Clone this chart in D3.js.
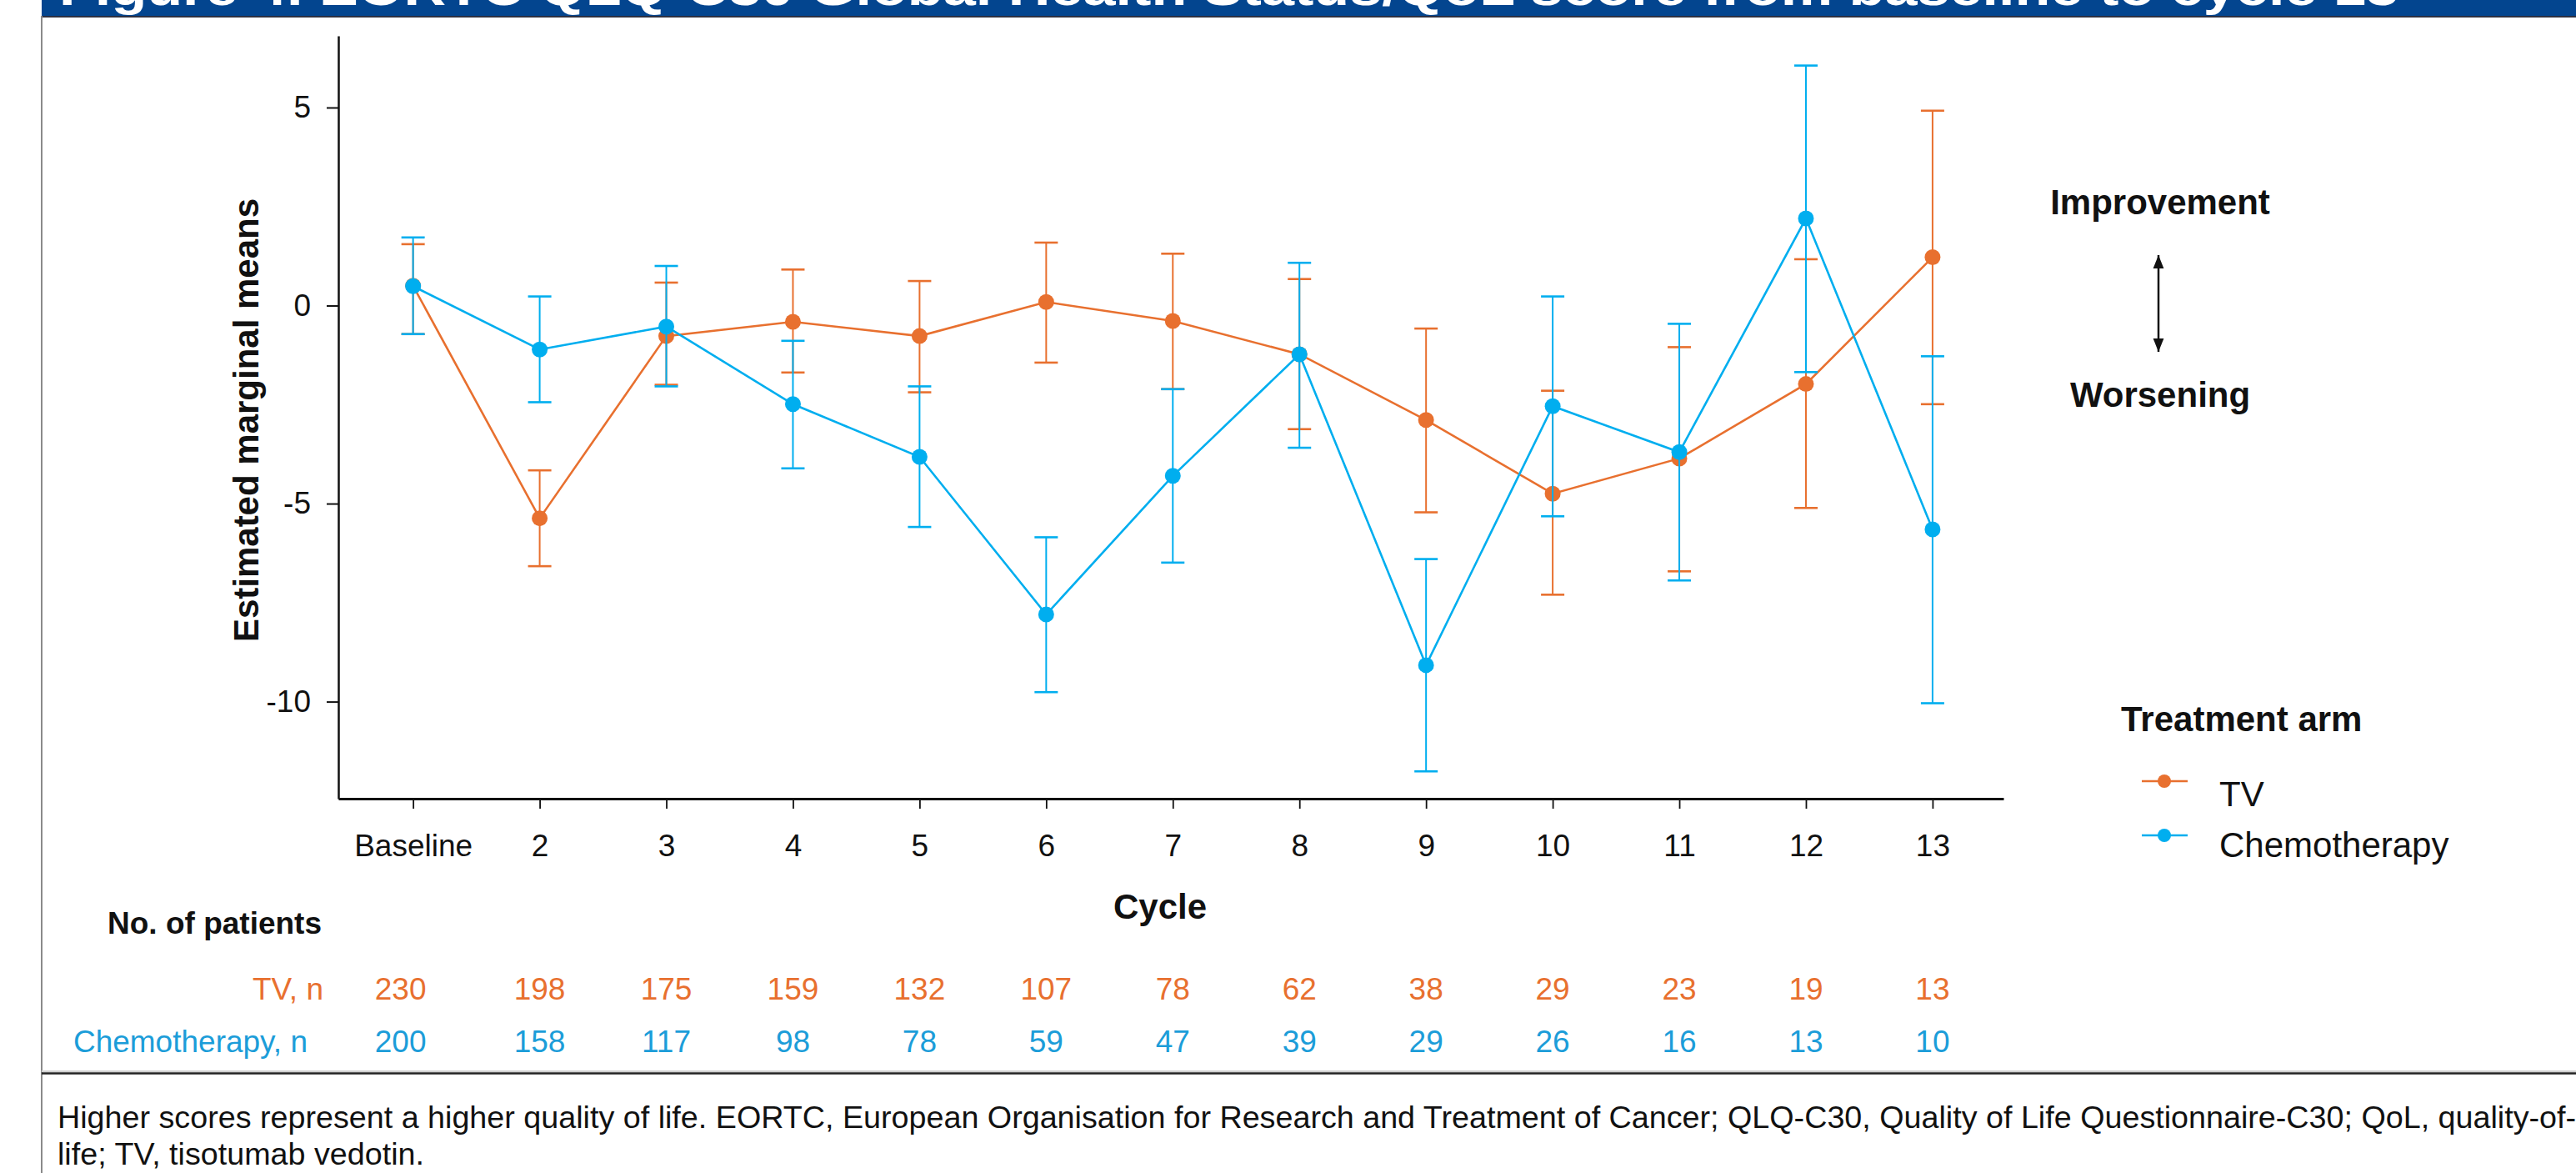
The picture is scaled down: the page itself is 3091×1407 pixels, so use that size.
<!DOCTYPE html>
<html>
<head>
<meta charset="utf-8">
<script src="https://cdn.jsdelivr.net/npm/d3@7"></script>
<style>
  html, body { margin: 0; padding: 0; background: #ffffff; }
  svg { display: block; font-family: "Liberation Sans", Arial, Helvetica, sans-serif; }
</style>
</head>
<body>
<svg id="chart" width="3091" height="1407"></svg>
<script>
// ---------- data ----------
const cycles = ["Baseline", "2", "3", "4", "5", "6", "7", "8", "9", "10", "11", "12", "13"];
const tvMean    = [0.50, -5.37, -0.77, -0.41, -0.77,  0.09, -0.39, -1.23, -2.89, -4.75, -3.86, -1.98,  1.22];
const tvLower   = [-0.72, -6.58, -2.00, -1.69, -2.19, -1.44, -2.11, -3.12, -5.22, -7.30, -6.71, -5.11, -2.49];
const tvUpper   = [1.55, -4.16,  0.58,  0.91,  0.62,  1.59,  1.31,  0.67, -0.58, -2.15, -1.05,  1.17,  4.92];
const chemoMean  = [0.49, -1.11, -0.53, -2.49, -3.82, -7.80, -4.30, -1.23, -9.08, -2.54, -3.70,  2.20, -5.65];
const chemoLower = [-0.72, -2.44, -2.04, -4.11, -5.59, -9.76, -6.49, -3.59, -11.76, -5.32, -6.94, -1.68, -10.04];
const chemoUpper = [1.72,  0.23,  1.00, -0.89, -2.04, -5.85, -2.11,  1.08, -6.40,  0.23, -0.46,  6.06, -1.28];
const tvN    = [230, 198, 175, 159, 132, 107, 78, 62, 38, 29, 23, 19, 13];
const chemoN = [200, 158, 117, 98, 78, 59, 47, 39, 29, 26, 16, 13, 10];
const yTicks = [-10, -5, 0, 5];
const yTickLabels = ["-10", "-5", "0", "5"];

const seriesNames = ["TV", "Chemotherapy"];
const ORANGE = "#E8702F";
const BLUE = "#00AEEF";
const BLUE_TEXT = "#1C9DD9";

const titleText = "Figure 4. EORTC QLQ-C30 Global Health Status/QoL score from baseline to cycle 13";
const footLine1 = "Higher scores represent a higher quality of life. EORTC, European Organisation for Research and Treatment of Cancer; QLQ-C30, Quality of Life Questionnaire-C30; QoL, quality-of-";
const footLine2 = "life; TV, tisotumab vedotin.";

// ---------- setup ----------
const svg = d3.select("#chart");
const W = 3091, H = 1407;

// header band
svg.append("rect").attr("x", 50).attr("y", 0).attr("width", W - 50).attr("height", 19).attr("fill", "#03458F");
svg.append("rect").attr("x", 50).attr("y", 19).attr("width", W - 50).attr("height", 2).attr("fill", "#2d3142");
svg.append("text").attr("x", 71).attr("y", 6)
  .attr("fill", "#ffffff").attr("font-weight", "bold").attr("font-size", 60)
  .attr("textLength", 2807).attr("lengthAdjust", "spacingAndGlyphs")
  .text(titleText);

// left border
svg.append("line").attr("x1", 50).attr("x2", 50).attr("y1", 19).attr("y2", H)
  .attr("stroke", "#8a8a8a").attr("stroke-width", 2);

// separator above footnote
svg.append("line").attr("x1", 50).attr("x2", W).attr("y1", 1285).attr("y2", 1285)
  .attr("stroke", "#d0d0d0").attr("stroke-width", 2);
svg.append("line").attr("x1", 50).attr("x2", W).attr("y1", 1287.5).attr("y2", 1287.5)
  .attr("stroke", "#222222").attr("stroke-width", 2.5);

// scales
const x = d3.scaleLinear().domain([-0.59, 12.56]).range([406, 2404]);
const y = d3.scaleLinear().domain([-12.45, 6.81]).range([958, 43]);

// axes
const yAxis = d3.axisLeft(y).tickValues(yTicks).tickSize(14).tickPadding(19).tickSizeOuter(0)
  .tickFormat((d, i) => yTickLabels[i]);
const gy = svg.append("g").attr("transform", "translate(406,0)").call(yAxis);
gy.select(".domain").attr("stroke", "#111").attr("stroke-width", 2.5);
gy.selectAll(".tick line").attr("stroke", "#111").attr("stroke-width", 2);
gy.selectAll(".tick text").attr("font-size", 37).attr("fill", "#111")
  .attr("font-family", "'Liberation Sans', Arial, sans-serif");

const xAxis = d3.axisBottom(x).tickValues(d3.range(cycles.length)).tickSize(12).tickPadding(31)
  .tickSizeOuter(0).tickFormat(i => cycles[i]);
const gx = svg.append("g").attr("transform", "translate(0,958)").call(xAxis);
gx.select(".domain").attr("stroke", "#111").attr("stroke-width", 3);
gx.selectAll(".tick line").attr("stroke", "#111").attr("stroke-width", 1.8);
gx.selectAll(".tick text").attr("font-size", 37).attr("fill", "#111")
  .attr("font-family", "'Liberation Sans', Arial, sans-serif");

// axis titles
svg.append("text").attr("x", 1392).attr("y", 1102).attr("text-anchor", "middle")
  .attr("font-size", 42).attr("font-weight", "bold").attr("fill", "#111").text("Cycle");
svg.append("text").attr("transform", "translate(310,504) rotate(-90)").attr("text-anchor", "middle")
  .attr("font-size", 42).attr("font-weight", "bold").attr("fill", "#111").text("Estimated marginal means");

// series
const series = [
  { name: seriesNames[0], color: ORANGE, mean: tvMean, lo: tvLower, hi: tvUpper },
  { name: seriesNames[1], color: BLUE, mean: chemoMean, lo: chemoLower, hi: chemoUpper }
];

const line = d3.line().x((d, i) => x(i)).y(d => y(d));
const capHalf = 14;

series.forEach(s => {
  const g = svg.append("g");
  const idx = d3.range(cycles.length);
  // error bars
  g.selectAll(".eb").data(idx).join("line")
    .attr("x1", i => x(i)).attr("x2", i => x(i))
    .attr("y1", i => y(s.lo[i])).attr("y2", i => y(s.hi[i]))
    .attr("stroke", s.color).attr("stroke-width", 2);
  g.selectAll(".capt").data(idx).join("line")
    .attr("x1", i => x(i) - capHalf).attr("x2", i => x(i) + capHalf)
    .attr("y1", i => y(s.hi[i])).attr("y2", i => y(s.hi[i]))
    .attr("stroke", s.color).attr("stroke-width", 2.6);
  g.selectAll(".capb").data(idx).join("line")
    .attr("x1", i => x(i) - capHalf).attr("x2", i => x(i) + capHalf)
    .attr("y1", i => y(s.lo[i])).attr("y2", i => y(s.lo[i]))
    .attr("stroke", s.color).attr("stroke-width", 2.6);
  // line
  g.append("path").datum(s.mean).attr("d", line)
    .attr("fill", "none").attr("stroke", s.color).attr("stroke-width", 2.6);
  // points
  g.selectAll("circle").data(s.mean).join("circle")
    .attr("cx", (d, i) => x(i)).attr("cy", d => y(d)).attr("r", 9.5)
    .attr("fill", s.color);
});

// improvement / worsening annotation
const defs = svg.append("defs");
defs.append("marker").attr("id", "ah").attr("viewBox", "0 0 10 10")
  .attr("refX", 10).attr("refY", 5).attr("markerWidth", 16).attr("markerHeight", 16)
  .attr("markerUnits", "userSpaceOnUse").attr("orient", "auto-start-reverse")
  .append("path").attr("d", "M0,1 L10,5 L0,9 Z").attr("fill", "#111");
svg.append("line").attr("x1", 2590).attr("x2", 2590).attr("y1", 306).attr("y2", 422)
  .attr("stroke", "#111").attr("stroke-width", 2.5)
  .attr("marker-start", "url(#ah)").attr("marker-end", "url(#ah)");
svg.append("text").attr("x", 2592).attr("y", 257).attr("text-anchor", "middle")
  .attr("font-size", 42).attr("font-weight", "bold").attr("fill", "#111").text("Improvement");
svg.append("text").attr("x", 2592).attr("y", 488).attr("text-anchor", "middle")
  .attr("font-size", 42).attr("font-weight", "bold").attr("fill", "#111").text("Worsening");

// legend
svg.append("text").attr("x", 2545).attr("y", 877)
  .attr("font-size", 42).attr("font-weight", "bold").attr("fill", "#111").text("Treatment arm");
const legY = [937, 1002];
const legTextY = [967, 1028];
series.forEach((s, k) => {
  svg.append("line").attr("x1", 2570).attr("x2", 2625).attr("y1", legY[k]).attr("y2", legY[k])
    .attr("stroke", s.color).attr("stroke-width", 2.6);
  svg.append("circle").attr("cx", 2597).attr("cy", legY[k]).attr("r", 8).attr("fill", s.color);
  svg.append("text").attr("x", 2663).attr("y", legTextY[k])
    .attr("font-size", 42).attr("fill", "#111").text(s.name);
});

// number at risk table
svg.append("text").attr("x", 386).attr("y", 1120).attr("text-anchor", "end")
  .attr("font-size", 37).attr("font-weight", "bold").attr("fill", "#111").text("No. of patients");
svg.append("text").attr("x", 388).attr("y", 1199).attr("text-anchor", "end")
  .attr("font-size", 37).attr("fill", ORANGE).text("TV, n");
svg.append("text").attr("x", 369).attr("y", 1262).attr("text-anchor", "end")
  .attr("font-size", 37).attr("fill", BLUE_TEXT).text("Chemotherapy, n");
svg.append("g").selectAll("text").data(tvN).join("text")
  .attr("x", (d, i) => x(i) - (i === 0 ? 15 : 0)).attr("y", 1199).attr("text-anchor", "middle")
  .attr("font-size", 37).attr("fill", ORANGE).text(d => d);
svg.append("g").selectAll("text").data(chemoN).join("text")
  .attr("x", (d, i) => x(i) - (i === 0 ? 15 : 0)).attr("y", 1262).attr("text-anchor", "middle")
  .attr("font-size", 37).attr("fill", BLUE_TEXT).text(d => d);

// footnote
svg.append("text").attr("x", 69).attr("y", 1353).attr("font-size", 37.7).attr("fill", "#111").text(footLine1);
svg.append("text").attr("x", 69).attr("y", 1397).attr("font-size", 37.7).attr("fill", "#111").text(footLine2);
</script>
</body>
</html>
